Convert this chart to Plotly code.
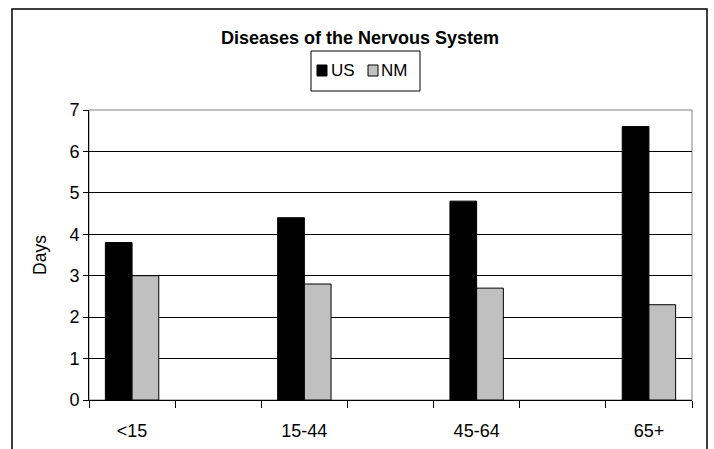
import plotly.graph_objects as go

# categories (blank slots give the empty gaps between age groups)
categories = ["<15", " ", "15-44", "  ", "45-64", "   ", "65+"]
us_days = [3.8, None, 4.4, None, 4.8, None, 6.6]
nm_days = [3.0, None, 2.8, None, 2.7, None, 2.3]
series_names = ["US", "NM"]
series_colors = ["black", "#c0c0c0"]

W, H = 714, 449
L, R, T, B = 89, 22, 110, 49
pw, ph = W - L - R, H - T - B


def px(x):
    return (x - L) / pw


def py(y):
    return (400 - y) / ph


fig = go.Figure()
for name, vals, col in zip(series_names, [us_days, nm_days], series_colors):
    fig.add_trace(go.Bar(x=categories, y=vals, name=name,
                         marker=dict(color=col, line=dict(color="black", width=1))))

fig.update_layout(
    width=W, height=H,
    margin=dict(l=L, r=R, t=T, b=B),
    paper_bgcolor="white", plot_bgcolor="white",
    font=dict(family="Liberation Sans, Arial", color="black", size=16),
    barmode="group", bargap=0.38, bargroupgap=0,
    title=dict(text="<b>Diseases of the Nervous System</b>", x=360 / W, xanchor="center",
               y=1 - 38 / H, yanchor="middle", font=dict(size=18, color="black")),
    showlegend=False,
)

fig.update_xaxes(
    type="category", categoryorder="array", categoryarray=categories,
    tickson="boundaries", ticks="outside", ticklen=7, tickcolor="black",
    showline=True, linecolor="black", linewidth=1, showgrid=False,
    tickfont=dict(size=18), range=[-0.5, 6.5], ticklabelstandoff=14,
    automargin=False,
)
fig.update_yaxes(
    range=[0, 7], dtick=1, ticks="outside", ticklen=5, tickcolor="black",
    showline=True, linecolor="black", linewidth=1,
    showgrid=True, gridcolor="black", gridwidth=1,
    tickfont=dict(size=18), zeroline=False, automargin=False,
    title=dict(text="Days", font=dict(size=17.5), standoff=18),
)

# plot-area border (gray) and the outer chart frame
fig.add_shape(type="rect", xref="paper", yref="paper", x0=0, x1=1, y0=0, y1=1,
              line=dict(color="#808080", width=1), layer="below")
fig.add_shape(type="rect", xref="paper", yref="paper",
              x0=px(12), x1=px(707), y0=py(470), y1=py(9),
              line=dict(color="black", width=1.5))

# legend box drawn by hand (compact Excel style)
fig.add_shape(type="rect", xref="paper", yref="paper",
              x0=px(311), x1=px(420), y0=py(91), y1=py(51),
              line=dict(color="black", width=1), fillcolor="white")
for (sx, tx), name, col in zip([(317, 329), (368, 379)], series_names, series_colors):
    fig.add_shape(type="rect", xref="paper", yref="paper",
                  x0=px(sx), x1=px(sx + 10), y0=py(76), y1=py(65),
                  line=dict(color="black", width=1), fillcolor=col)
    fig.add_annotation(text=name, xref="paper", yref="paper", x=px(tx), y=py(70.5),
                       xanchor="left", yanchor="middle", showarrow=False,
                       font=dict(size=17))

fig.write_html("out.html", post_script="document.body.style.margin='0';",
               config={"displayModeBar": False})
